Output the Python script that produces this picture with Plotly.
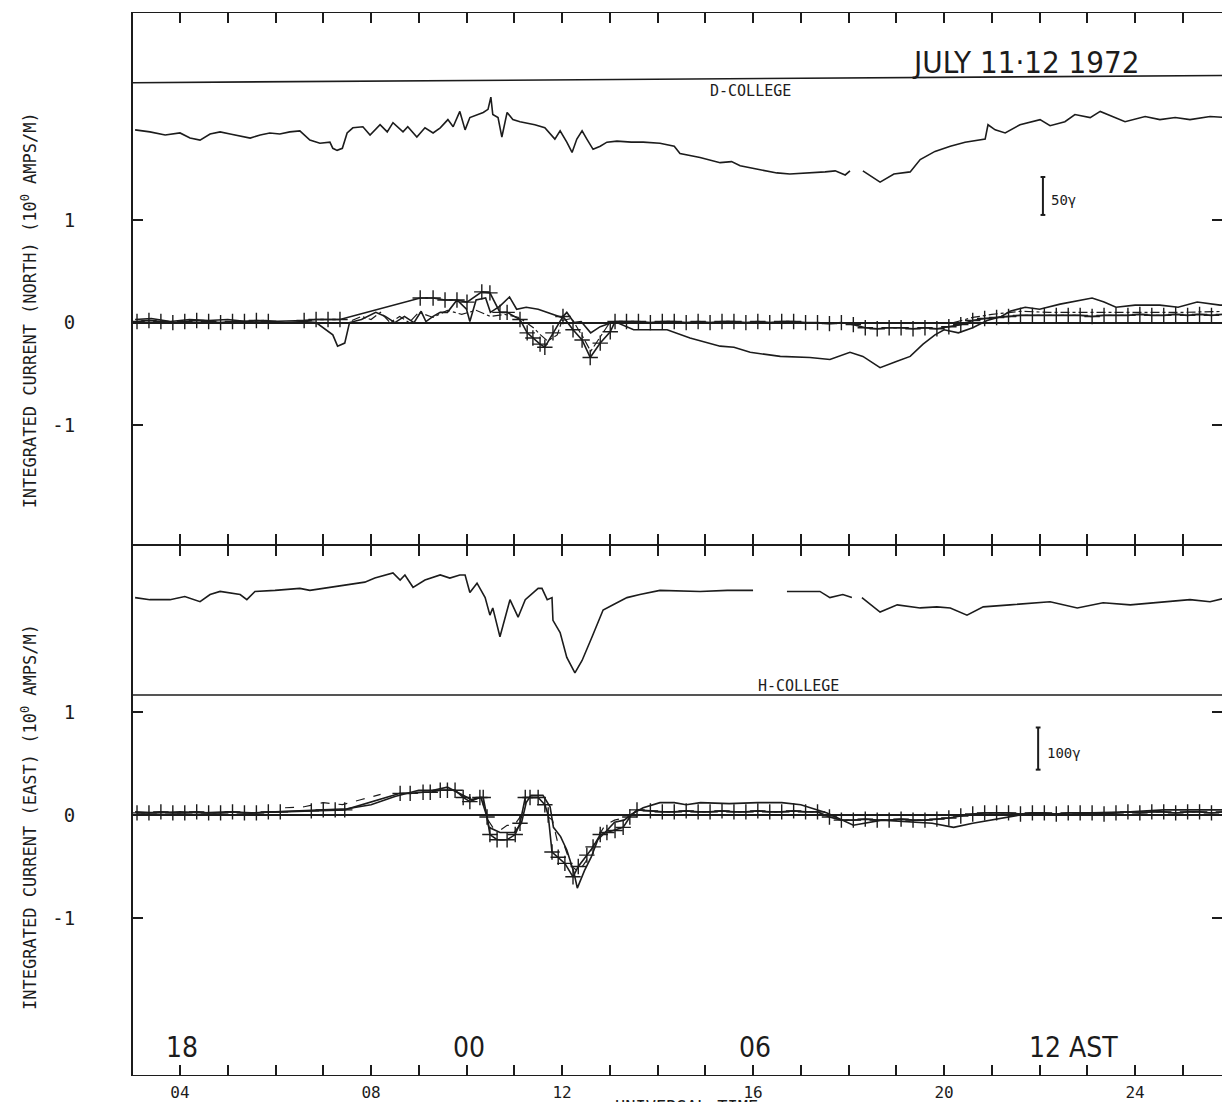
import plotly.graph_objects as go
from plotly.subplots import make_subplots

# time axis is universal time in hours; currents in units of 10^0 amps/m
# magnetogram traces are drawn in the same panel units (offset above the current traces)

# D component, College (top panel)
D_t = [3.06, 3.37, 3.69, 4.00, 4.21, 4.42, 4.63, 4.84, 5.05, 5.26,
       5.47, 5.68, 5.88, 6.09, 6.30, 6.51, 6.72, 6.93, 7.14,
       7.20, 7.29, 7.40, 7.50, 7.62, 7.83, 7.98, 8.19, 8.34, 8.46,
       8.67, 8.77, 8.96, 9.13, 9.30, 9.45, 9.61, 9.72, 9.86, 9.97,
       10.07, 10.22, 10.35, 10.45, 10.51, 10.55, 10.66, 10.74, 10.85, 10.97,
       11.12, 11.43, 11.64, 11.85, 11.96, 12.10, 12.21, 12.31, 12.42, 12.52,
       12.65, 12.80, 12.94, 13.15,
       13.45, 13.70, 14.05, 14.35, 14.47, 14.89, 15.31, 15.55, 15.73, 16.15,
       16.50, 16.77, 17.19, 17.51, 17.72, 17.93, 18.03, None, 18.30, 18.66,
       18.95, 19.29, 19.50, 19.81, 20.13, 20.44, 20.86, 20.92, 21.07, 21.28,
       21.59, 22.01, 22.22, 22.53, 22.74, 23.06, 23.27, 23.58, 23.79, 24.21,
       24.52, 24.84, 25.15, 25.57, 25.95]
D_v = [1.88, 1.86, 1.83, 1.85, 1.80, 1.78, 1.84, 1.86, 1.84, 1.82,
       1.80, 1.83, 1.85, 1.84, 1.86, 1.87, 1.78, 1.75, 1.76,
       1.70, 1.68, 1.70, 1.85, 1.90, 1.91, 1.83, 1.93, 1.86, 1.95,
       1.86, 1.91, 1.81, 1.90, 1.85, 1.90, 1.98, 1.91, 2.06, 1.88,
       2.00, 2.03, 2.05, 2.08, 2.20, 2.03, 2.00, 1.81, 2.05, 1.98,
       1.96, 1.93, 1.90, 1.79, 1.87, 1.76, 1.66, 1.79, 1.87, 1.79,
       1.69, 1.72, 1.76, 1.77,
       1.76, 1.76, 1.75, 1.72, 1.65, 1.61, 1.56, 1.57, 1.53, 1.49,
       1.46, 1.45, 1.46, 1.47, 1.48, 1.44, 1.48, None, 1.48, 1.37,
       1.45, 1.47, 1.59, 1.67, 1.72, 1.76, 1.79, 1.93, 1.88, 1.85,
       1.93, 1.98, 1.92, 1.96, 2.03, 2.00, 2.06, 2.00, 1.96, 2.01,
       1.98, 2.00, 1.98, 2.01, 2.00]

# integrated current north: model (+), observed (solid), alternate (dash-dot)
N_calc_t = [3.10, 3.35, 3.60, 3.85, 4.10, 4.35, 4.60, 4.85, 5.10, 5.35, 5.60, 5.85,
            6.60, 6.85, 7.10, 7.35,
            9.03, 9.30, 9.55, 9.80, 10.01, 10.32, 10.49, 10.70, 10.85, 11.12, 11.27,
            11.39, 11.54, 11.64, 11.81, 12.02, 12.23, 12.42, 12.59, 12.80, 13.01, 13.11,
            13.35, 13.60, 13.85, 14.10, 14.35, 14.60, 14.85, 15.10, 15.35, 15.60,
            15.85, 16.10, 16.35, 16.60, 16.85, 17.10, 17.35, 17.60, 17.85, 18.10,
            18.35, 18.60, 18.85, 19.10, 19.35, 19.60, 19.85, 20.10,
            20.35, 20.60, 20.85, 21.10, 21.35, 21.60, 21.85, 22.10, 22.35, 22.60,
            22.85, 23.10, 23.35, 23.60, 23.85, 24.10, 24.35, 24.60, 24.85, 25.10,
            25.35, 25.60, 25.85]
N_calc_v = [0.01, 0.02, 0.01, 0.00, 0.01, 0.02, 0.01, 0.00, 0.01, 0.01, 0.02, 0.01,
            0.02, 0.03, 0.03, 0.03,
            0.24, 0.24, 0.22, 0.22, 0.20, 0.30, 0.29, 0.10, 0.10, 0.03, -0.10,
            -0.15, -0.21, -0.24, -0.10, 0.06, -0.07, -0.17, -0.34, -0.20, -0.09, 0.01,
            0.01, 0.01, 0.00, 0.01, 0.01, 0.00, 0.01, 0.00, 0.01, 0.01,
            0.00, 0.01, 0.00, 0.01, 0.01, 0.00, 0.00, -0.01, 0.00, -0.02,
            -0.05, -0.06, -0.05, -0.05, -0.06, -0.05, -0.06, -0.04,
            -0.02, 0.02, 0.04, 0.05, 0.06, 0.07, 0.07, 0.07, 0.07, 0.07,
            0.07, 0.06, 0.07, 0.07, 0.07, 0.08, 0.07, 0.07, 0.08, 0.07,
            0.08, 0.07, 0.08]

N_obs_t = [3.06, 3.40, 3.80, 4.20, 4.60, 5.00, 5.40, 5.80, 6.20, 6.60,
           6.85, 7.00, 7.20, 7.30, 7.45, 7.55, 7.80, 8.10, 8.30, 8.50,
           8.70, 8.90, 9.05, 9.15, 9.30, 9.45, 9.60, 9.80, 10.00, 10.07,
           10.20, 10.40, 10.50, 10.70, 10.90, 11.05, 11.25, 11.50, 11.70, 11.85,
           12.00, 12.10, 12.25, 12.40, 12.60, 12.80, 13.10, 13.50, 14.20, 14.68,
           15.31, 15.60, 15.94, 16.57, 17.19, 17.61, 18.03, 18.30, 18.66, 19.00,
           19.29, 19.56, 19.81, 20.00, 20.30, 20.60, 20.90, 21.20, 21.38, 21.70,
           22.00, 22.43, 22.64, 23.10, 23.35, 23.60, 24.00, 24.52, 24.90, 25.30,
           25.78, 25.95]
N_obs_v = [0.03, 0.04, 0.01, 0.03, 0.02, 0.03, 0.01, 0.02, 0.00, 0.01,
           0.00, -0.05, -0.12, -0.23, -0.20, 0.00, 0.03, 0.10, 0.06, 0.00,
           0.06, 0.00, 0.11, 0.01, 0.06, 0.10, 0.10, 0.22, 0.13, 0.01,
           0.22, 0.24, 0.10, 0.16, 0.25, 0.13, 0.15, 0.13, 0.10, 0.08,
           0.05, 0.10, 0.00, 0.01, -0.10, -0.04, 0.01, -0.07, -0.07, -0.15,
           -0.23, -0.24, -0.29, -0.33, -0.34, -0.36, -0.29, -0.33, -0.44, -0.38,
           -0.33, -0.21, -0.12, -0.07, -0.10, -0.05, 0.02, 0.06, 0.11, 0.15,
           0.13, 0.18, 0.20, 0.24, 0.20, 0.15, 0.17, 0.17, 0.15, 0.20,
           0.17, 0.17]

N_dash_t = [7.60, 7.80, 8.00, 8.20, 8.40, 8.60, 8.80, 9.00, 9.30, 9.60,
            9.90, 10.20, 10.50, 10.80, 11.10, 11.40, 11.55, 11.70, 11.90, 12.00,
            12.20, 12.45, 12.60, 12.80, 13.00, None,
            20.20, 20.60, 21.00, 21.60, 22.20, 23.00, 24.00, 25.00, 25.95]
N_dash_v = [0.02, 0.06, 0.03, 0.10, 0.00, 0.06, 0.00, 0.10, 0.05, 0.12,
            0.08, 0.12, 0.06, 0.08, 0.05, -0.05, -0.12, -0.18, -0.12, 0.02,
            0.04, -0.15, -0.28, -0.14, 0.00, None,
            0.00, 0.05, 0.08, 0.11, 0.10, 0.10, 0.10, 0.10, 0.11]

# H component, College (bottom panel)
H_t = [3.06, 3.37, 3.79, 4.10, 4.42, 4.63, 4.84, 5.26, 5.40, 5.57,
       5.99, 6.51, 6.72, 7.14, 7.46, 7.87, 8.08, 8.46, 8.61, 8.71,
       8.88, 9.13, 9.45, 9.65, 9.86, 9.97, 10.07, 10.22, 10.39, 10.49,
       10.55, 10.70, 10.91, 11.08, 11.23, 11.50, 11.58, 11.69, 11.79, 11.81,
       11.96, 12.10, 12.27, 12.42, 12.63, 12.86, 13.07, 13.36, 13.63, 14.05,
       14.89, 15.46, 16.00, None, 16.71, 17.40, 17.61, 17.88, 18.07, None,
       18.28, 18.66, 19.02, 19.50, 19.85, 20.13, 20.48, 20.82, 21.38, 22.22,
       22.79, 23.33, 23.90, 24.59, 25.15, 25.57, 25.93]
H_v = [2.11, 2.09, 2.09, 2.12, 2.07, 2.14, 2.17, 2.14, 2.09, 2.17,
       2.18, 2.20, 2.18, 2.21, 2.23, 2.26, 2.30, 2.35, 2.28, 2.33,
       2.21, 2.28, 2.33, 2.30, 2.33, 2.33, 2.16, 2.25, 2.11, 1.94,
       2.01, 1.73, 2.09, 1.92, 2.09, 2.20, 2.20, 2.09, 2.11, 1.89,
       1.77, 1.53, 1.38, 1.50, 1.73, 1.99, 2.04, 2.11, 2.14, 2.18,
       2.17, 2.18, 2.18, None, 2.17, 2.17, 2.11, 2.14, 2.11, None,
       2.11, 1.97, 2.04, 2.01, 2.02, 2.01, 1.94, 2.02, 2.04, 2.07,
       2.01, 2.06, 2.04, 2.07, 2.09, 2.07, 2.11]

# integrated current east
E_calc_t = [3.10, 3.35, 3.60, 3.85, 4.10, 4.35, 4.60, 4.85, 5.10, 5.35, 5.60, 5.85, 6.10,
            6.75, 7.00, 7.25, 7.45,
            8.61, 8.82, 9.09, 9.24, 9.45, 9.60, 9.76, 9.93, 10.07, 10.28,
            10.35, 10.43, 10.49, 10.64, 10.85, 11.02, 11.12, 11.23, 11.33, 11.50,
            11.64, 11.71, 11.79, 11.92, 12.06, 12.23, 12.34, 12.52, 12.65, 12.80,
            12.94, 13.11, 13.28, 13.42, 13.57,
            13.85, 14.10, 14.35, 14.60, 14.85, 15.10, 15.35, 15.60, 15.85, 16.10,
            16.35, 16.60, 16.85, 17.10, 17.35,
            17.60, 17.85, 18.10, 18.35, 18.60, 18.85, 19.10, 19.35, 19.60, 19.85, 20.10,
            20.35, 20.60, 20.85, 21.10, 21.35, 21.60, 21.85, 22.10, 22.35, 22.60,
            22.85, 23.10, 23.35, 23.60, 23.85, 24.10, 24.35, 24.60, 24.85, 25.10,
            25.35, 25.60, 25.85]
E_calc_v = [0.02, 0.02, 0.03, 0.02, 0.02, 0.03, 0.02, 0.02, 0.03, 0.02, 0.02, 0.03, 0.03,
            0.04, 0.05, 0.05, 0.05,
            0.21, 0.21, 0.22, 0.22, 0.24, 0.24, 0.24, 0.17, 0.13, 0.17,
            0.17, -0.02, -0.19, -0.24, -0.24, -0.19, -0.08, 0.17, 0.17, 0.17,
            0.10, 0.00, -0.36, -0.41, -0.47, -0.60, -0.50, -0.39, -0.31, -0.19,
            -0.17, -0.15, -0.12, -0.02, 0.05,
            0.04, 0.03, 0.03, 0.04, 0.03, 0.03, 0.04, 0.03, 0.03, 0.04,
            0.03, 0.03, 0.04, 0.03, 0.03,
            -0.02, -0.05, -0.05, -0.04, -0.05, -0.05, -0.04, -0.05, -0.05, -0.04, -0.03,
            -0.01, 0.01, 0.02, 0.02, 0.02, 0.01, 0.02, 0.02, 0.01, 0.02,
            0.02, 0.02, 0.01, 0.02, 0.03, 0.02, 0.03, 0.03, 0.02, 0.03,
            0.03, 0.02, 0.03]

E_obs_t = [3.06, 3.50, 4.00, 4.50, 5.00, 5.50, 6.00, 6.50, 7.00, 7.50,
           8.00, 8.50, 9.00, 9.30, 9.60, 9.90, 10.10, 10.30, 10.43, 10.47,
           10.70, 11.00, 11.15, 11.25, 11.35, 11.60, 11.75, 11.82, 11.97, 12.10,
           12.25, 12.32, 12.47, 12.61, 12.75, 12.90, 13.10, 13.30, 13.50, 13.70,
           14.05, 14.35, 14.60, 14.90, 15.50, 16.10, 16.60, 17.00, 17.20, 17.55,
           18.10, 18.70, 19.75, 20.20, 20.60, 21.00, 21.85, 22.55, 23.10, 23.90,
           24.60, 25.95]
E_obs_v = [0.03, 0.02, 0.03, 0.02, 0.03, 0.02, 0.03, 0.04, 0.05, 0.06,
           0.10, 0.18, 0.24, 0.24, 0.27, 0.20, 0.15, 0.17, -0.02, -0.12,
           -0.17, -0.17, -0.08, 0.12, 0.19, 0.19, 0.08, -0.12, -0.21, -0.34,
           -0.56, -0.71, -0.54, -0.41, -0.24, -0.17, -0.07, -0.05, 0.02, 0.07,
           0.12, 0.12, 0.10, 0.12, 0.11, 0.12, 0.12, 0.10, 0.07, 0.02,
           -0.10, -0.05, -0.08, -0.12, -0.08, -0.05, 0.02, 0.00, 0.02, 0.03,
           0.05, 0.05]

E_dash_t = [6.20, 6.60, 7.00, 7.40, 7.80, 8.20, None,
            10.45, 10.55, 10.70, 10.85, 11.00, 11.15, 11.30, 11.50, 11.65, 11.80,
            11.90, 12.05, 12.20, 12.35, 12.50, 12.70, 12.90, 13.10, 13.30, 13.50]
E_dash_v = [0.07, 0.08, 0.12, 0.10, 0.15, 0.20, None,
            -0.05, -0.12, -0.15, -0.10, -0.10, 0.00, 0.00, 0.00, 0.00, -0.05,
            -0.25, -0.30, -0.50, -0.55, -0.45, -0.25, -0.10, -0.05, -0.03, 0.02]

# axis ticks
HOUR_TICKS = [3, 4, 5, 6, 7, 8, 9, 10, 11, 12, 13, 14, 15, 16, 17, 18, 19, 20, 21, 22, 23, 24, 25]
HOUR_LABELS = ["", "04", "", "", "", "08", "", "", "", "12", "", "", "", "16", "", "", "",
               "20", "", "", "", "24", ""]
AST_HOURS = [4, 10, 16]
AST_LABELS = ["18", "00", "06"]
Y_TICKS = [-1, 0, 1]
Y_LABELS = ["-1", "0", "1"]
D_BASE = [2.34, 2.41]   # D-College reference line (left, right)
H_BASE = 1.165          # H-College reference line

INK = "#1c1c1c"
MONO = "DejaVu Sans Mono"
THIN = "Liberation Sans Narrow, DejaVu Sans Condensed, Liberation Sans, sans-serif"

# page body keeps an 8px margin, so the figure is sized to fit inside the window
X_RANGE = [3.016, 25.82]

fig = make_subplots(rows=2, cols=1, shared_xaxes=True, vertical_spacing=0)

line_style = dict(color=INK, width=1.6)
cross = dict(symbol="cross-thin", size=11, color=INK, line=dict(width=1.4, color=INK))

fig.add_trace(go.Scatter(x=D_t, y=D_v, mode="lines", line=line_style, connectgaps=False), row=1, col=1)
fig.add_trace(go.Scatter(x=N_obs_t, y=N_obs_v, mode="lines", line=line_style), row=1, col=1)
fig.add_trace(go.Scatter(x=N_dash_t, y=N_dash_v, mode="lines",
                         line=dict(color=INK, width=1.2, dash="dashdot"), connectgaps=False), row=1, col=1)
fig.add_trace(go.Scatter(x=N_calc_t, y=N_calc_v, mode="lines+markers", line=line_style, marker=cross), row=1, col=1)

fig.add_trace(go.Scatter(x=H_t, y=H_v, mode="lines", line=line_style, connectgaps=False), row=2, col=1)
fig.add_trace(go.Scatter(x=E_obs_t, y=E_obs_v, mode="lines", line=line_style), row=2, col=1)
fig.add_trace(go.Scatter(x=E_dash_t, y=E_dash_v, mode="lines",
                         line=dict(color=INK, width=1.2, dash="dash"), connectgaps=False), row=2, col=1)
fig.add_trace(go.Scatter(x=E_calc_t, y=E_calc_v, mode="lines+markers", line=line_style, marker=cross), row=2, col=1)

xax = dict(range=X_RANGE, tickmode="array", tickvals=HOUR_TICKS, ticks="inside", ticklen=10,
           tickwidth=1.6, tickcolor=INK, showline=True, linecolor=INK, linewidth=1.4, mirror="ticks",
           showgrid=False, zeroline=False, automargin=False)
fig.update_xaxes(**xax)
fig.update_xaxes(showticklabels=False, row=1, col=1)
fig.update_xaxes(ticktext=HOUR_LABELS, showticklabels=True, tickfont=dict(family=MONO, size=16, color=INK),
                 ticklabelstandoff=3, row=2, col=1)

yax = dict(tickmode="array", tickvals=Y_TICKS, ticktext=Y_LABELS, ticks="inside", ticklen=10,
           tickwidth=1.6, tickcolor=INK, showline=True, linecolor=INK, linewidth=2, mirror="ticks",
           showgrid=False, zeroline=True, zerolinecolor=INK, zerolinewidth=1.8, automargin=False,
           tickfont=dict(family=MONO, size=19, color=INK), ticklabelstandoff=52)
fig.update_yaxes(**yax)
fig.update_yaxes(range=[-2.16, 3.02], domain=[0.5, 1.0], row=1, col=1)
fig.update_yaxes(range=[-2.524, 2.615], domain=[0.0, 0.4985], row=2, col=1)

shapes = [
    dict(type="line", xref="x", yref="y", x0=X_RANGE[0], x1=X_RANGE[1], y0=D_BASE[0], y1=D_BASE[1],
         line=dict(color=INK, width=1.6)),
    dict(type="line", xref="x2", yref="y2", x0=X_RANGE[0], x1=X_RANGE[1], y0=H_BASE, y1=H_BASE,
         line=dict(color=INK, width=1.6)),
    # scale bars
    dict(type="line", xref="x", yref="y", x0=22.07, x1=22.07, y0=1.05, y1=1.42, line=dict(color=INK, width=2)),
    dict(type="line", xref="x", yref="y", x0=22.02, x1=22.12, y0=1.05, y1=1.05, line=dict(color=INK, width=2)),
    dict(type="line", xref="x", yref="y", x0=22.02, x1=22.12, y0=1.42, y1=1.42, line=dict(color=INK, width=2)),
    dict(type="line", xref="x2", yref="y2", x0=21.97, x1=21.97, y0=0.44, y1=0.85, line=dict(color=INK, width=2)),
    dict(type="line", xref="x2", yref="y2", x0=21.92, x1=22.02, y0=0.44, y1=0.44, line=dict(color=INK, width=2)),
    dict(type="line", xref="x2", yref="y2", x0=21.92, x1=22.02, y0=0.85, y1=0.85, line=dict(color=INK, width=2)),
]

annotations = [
    dict(text="JULY 11·12 1972", xref="x", yref="y", x=21.72, y=2.54, showarrow=False,
         font=dict(family=THIN, size=31, color=INK)),
    dict(text="D-COLLEGE", xref="x", yref="y", x=15.94, y=2.26, showarrow=False,
         font=dict(family=MONO, size=15, color=INK)),
    dict(text="H-COLLEGE", xref="x2", yref="y2", x=16.96, y=1.25, showarrow=False,
         font=dict(family=MONO, size=15, color=INK)),
    dict(text="50γ", xref="x", yref="y", x=22.2, y=1.2, xanchor="left", showarrow=False,
         font=dict(family=MONO, size=14, color=INK)),
    dict(text="100γ", xref="x2", yref="y2", x=22.12, y=0.6, xanchor="left", showarrow=False,
         font=dict(family=MONO, size=14, color=INK)),
    dict(text="12 AST", xref="x2", yref="y2", x=21.74, y=-2.26, xanchor="left", showarrow=False,
         font=dict(family=THIN, size=28, color=INK)),
    dict(text="INTEGRATED CURRENT (NORTH) (10<sup>0</sup> AMPS/M)", xref="paper", yref="paper",
         x=-0.0955, y=0.72, xanchor="center", yanchor="middle", textangle=-90, showarrow=False,
         font=dict(family=MONO, size=17, color=INK)),
    dict(text="INTEGRATED CURRENT (EAST) (10<sup>0</sup> AMPS/M)", xref="paper", yref="paper",
         x=-0.0955, y=0.243, xanchor="center", yanchor="middle", textangle=-90, showarrow=False,
         font=dict(family=MONO, size=17, color=INK)),
    # only the top of this label shows at the lower edge, as in the scan
    dict(text="UNIVERSAL TIME", xref="paper", yref="paper", x=0.508, y=-0.0185, xanchor="center",
         yanchor="top", showarrow=False, font=dict(family=MONO, size=17, color=INK)),
]
for h, lab in zip(AST_HOURS, AST_LABELS):
    annotations.append(dict(text=lab, xref="x2", yref="y2", x=h + 0.05, y=-2.26, showarrow=False,
                            font=dict(family=THIN, size=28, color=INK)))

fig.update_layout(
    width=1214, height=1094,
    margin=dict(l=125, r=0, t=5, b=27),
    paper_bgcolor="white", plot_bgcolor="white",
    showlegend=False,
    font=dict(family=MONO, color=INK),
    shapes=shapes,
    annotations=annotations,
)

fig.write_html("out.html")
